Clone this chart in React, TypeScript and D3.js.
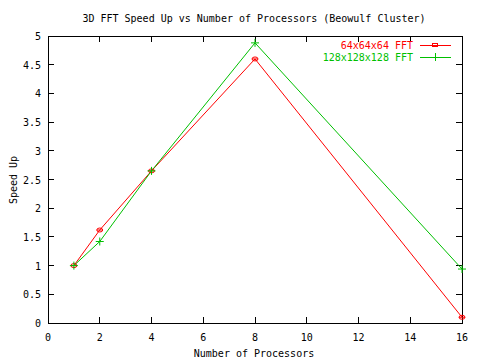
import React from "react";
import * as d3 from "d3";

const processors = [1, 2, 4, 8, 16];
const speedup64 = [1, 1.62, 2.65, 4.6, 0.1];
const speedup128 = [1, 1.42, 2.65, 4.88, 0.94];
const xTicks = [0, 2, 4, 6, 8, 10, 12, 14, 16];
const yTicks = [0, 0.5, 1, 1.5, 2, 2.5, 3, 3.5, 4, 4.5, 5];
const seriesNames = ["64x64x64 FFT", "128x128x128 FFT"];
const seriesColors = ["#ff0000", "#00c000"];

const W = 480, H = 360;
const L = 48, R = 462, T = 36, B = 323;
const font = "'DejaVu Sans Mono', monospace";

export default function App() {
  const x = d3.scaleLinear().domain([0, 16]).range([L, R]);
  const y = d3.scaleLinear().domain([0, 5]).range([B, T]);
  const line = d3.line<number>().x((_, i) => x(processors[i])).y((d) => y(d));
  const tick = 6;

  const circleMark = (cx: number, cy: number, c: string, k: string) => (
    <g key={k}>
      <ellipse cx={cx} cy={cy} rx={3} ry={2} fill="none" stroke={c} strokeWidth={1} />
      <line x1={cx - 3} x2={cx + 3} y1={cy} y2={cy} stroke={c} strokeWidth={1} />
    </g>
  );
  const plusMark = (cx: number, cy: number, c: string, k: string) => (
    <g key={k}>
      <line x1={cx - 4} x2={cx + 4} y1={cy} y2={cy} stroke={c} strokeWidth={1} />
      <line x1={cx} x2={cx} y1={cy - 4} y2={cy + 4} stroke={c} strokeWidth={1} />
    </g>
  );

  return (
    <svg width={W} height={H} style={{ position: "absolute", left: 0, top: 0, background: "#fff" }} shapeRendering="crispEdges">
      <rect x={0} y={0} width={W} height={H} fill="#fff" />
      <text x={254} y={22} fontFamily={font} fontSize={10} textAnchor="middle" fill="#000">
        3D FFT Speed Up vs Number of Processors (Beowulf Cluster)
      </text>
      {/* ticks */}
      {xTicks.map((t) => (
        <g key={"x" + t}>
          <line x1={x(t)} x2={x(t)} y1={B} y2={B - tick} stroke="#000" />
          <line x1={x(t)} x2={x(t)} y1={T} y2={T + tick} stroke="#000" />
          <text x={x(t)} y={341} fontFamily={font} fontSize={10} textAnchor="middle">{t}</text>
        </g>
      ))}
      {yTicks.map((t) => (
        <g key={"y" + t}>
          <line x1={L} x2={L + tick} y1={y(t)} y2={y(t)} stroke="#000" />
          <line x1={R} x2={R - tick} y1={y(t)} y2={y(t)} stroke="#000" />
          <text x={41} y={y(t) + 4} fontFamily={font} fontSize={10} textAnchor="end">{t}</text>
        </g>
      ))}
      <rect x={L} y={T} width={R - L} height={B - T} fill="none" stroke="#000" strokeWidth={1} />
      <text x={254} y={357} fontFamily={font} fontSize={10} textAnchor="middle">Number of Processors</text>
      <text transform={`translate(17,180) rotate(-90)`} fontFamily={font} fontSize={10} textAnchor="middle">Speed Up</text>

      {/* series */}
      <g shapeRendering="auto">
        <path d={line(speedup64) || ""} fill="none" stroke={seriesColors[0]} strokeWidth={1} />
        <path d={line(speedup128) || ""} fill="none" stroke={seriesColors[1]} strokeWidth={1} />
        {speedup64.map((v, i) => circleMark(x(processors[i]), y(v), seriesColors[0], "a" + i))}
        {speedup128.map((v, i) => plusMark(x(processors[i]), y(v), seriesColors[1], "b" + i))}
      </g>

      {/* legend */}
      {seriesNames.map((n, i) => {
        const ly = 45 + i * 12;
        return (
          <g key={n}>
            <text x={413} y={ly + 4} fontFamily={font} fontSize={10} textAnchor="end" fill={seriesColors[i]}>{n}</text>
            <line x1={420} x2={451} y1={ly} y2={ly} stroke={seriesColors[i]} />
            {i === 0 ? circleMark(435, ly, seriesColors[i], "l0") : plusMark(435, ly, seriesColors[i], "l1")}
          </g>
        );
      })}
    </svg>
  );
}
